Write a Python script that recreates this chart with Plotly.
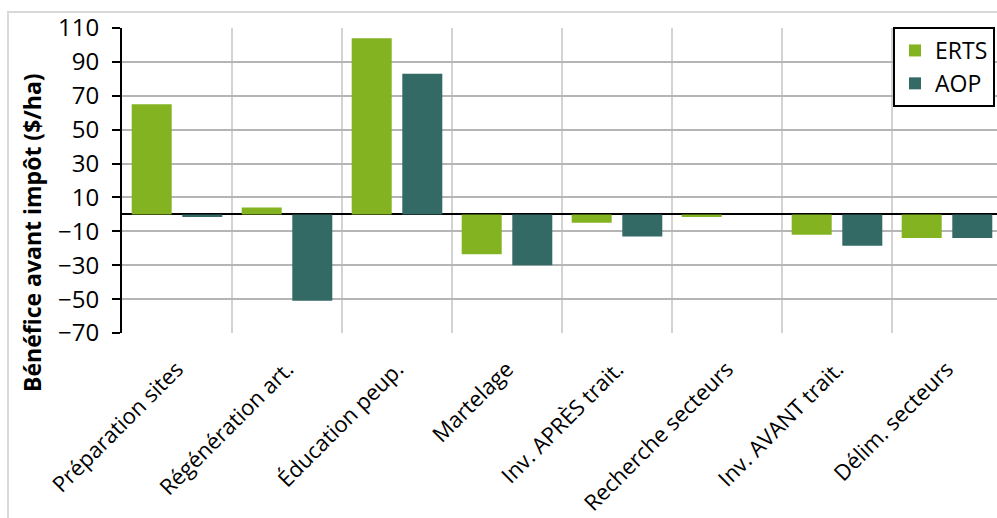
import plotly.graph_objects as go

categories = ["Préparation sites", "Régénération art.", "Éducation peup.", "Martelage",
              "Inv. APRÈS trait.", "Recherche secteurs", "Inv. AVANT trait.", "Délim. secteurs"]
erts = [65, 4, 104, -23.5, -5, -1.5, -12, -14]
aop = [-1.5, -51, 83, -30, -13, 0, -18.5, -14]
y_ticks = [-70, -50, -30, -10, 10, 30, 50, 70, 90, 110]
y_title = "Bénéfice avant impôt ($/ha)"

GREEN = "#83B320"
TEAL = "#336A66"
FONT = "Open Sans"

W, H = 997, 518
L, R, T, B = 122, 0, 28, 185
ymin, ymax = -70, 110
xr = [-0.5, 7.5 - 5 / 110]

fig = go.Figure()
fig.add_trace(go.Bar(name="ERTS", x=categories, y=erts, marker_color=GREEN,
                     marker_line_width=0, width=40 / 110, offset=-45.3 / 110))
fig.add_trace(go.Bar(name="AOP", x=categories, y=aop, marker_color=TEAL,
                     marker_line_width=0, width=40 / 110, offset=5.3 / 110))

zero_frac = (0 - ymin) / (ymax - ymin)
pw = W - L - R
ph = H - T - B

fig.update_layout(
    width=W, height=H,
    margin=dict(l=L, r=R, t=T, b=B, pad=0, autoexpand=False),
    paper_bgcolor="white", plot_bgcolor="white",
    barmode="overlay",
    font=dict(family=FONT, color="black"),
    xaxis=dict(type="category", categoryorder="array", categoryarray=categories,
               range=xr, tickson="boundaries", showgrid=True, gridcolor="#d3d3d3",
               gridwidth=1.5, ticks="", showline=False, zeroline=False,
               tickangle=-45, tickfont=dict(size=22, family=FONT),
               ticklabelstandoff=18, automargin=False),
    xaxis2=dict(overlaying="x", anchor="free", position=zero_frac, range=xr,
                tickmode="array", tickvals=[i + 0.5 for i in range(len(categories) - 1)],
                ticks="outside", ticklen=7, tickwidth=2, tickcolor="black",
                showticklabels=False, showgrid=False, showline=False, zeroline=False,
                automargin=False),
    yaxis=dict(range=[ymin, ymax], tickmode="array", tickvals=y_ticks,
               showgrid=True, gridcolor="#b5b5b5", gridwidth=1.5,
               zeroline=True, zerolinecolor="black", zerolinewidth=2,
               showline=True, linecolor="black", linewidth=2,
               ticks="outside", ticklen=8, tickwidth=2, tickcolor="black",
               tickfont=dict(size=24, family=FONT), ticklabelstandoff=8,
               automargin=False),
    legend=dict(x=(995 - L) / pw, xanchor="right", y=(H - B - 27) / ph, yanchor="top",
                bgcolor="white", bordercolor="black", borderwidth=2,
                font=dict(size=23, family=FONT), tracegroupgap=0),
    showlegend=True,
)

fig.add_annotation(text=y_title, textangle=-90, showarrow=False,
                   xref="paper", yref="paper", x=(32 - L) / pw, y=(H - B - 233) / ph,
                   xanchor="center", yanchor="middle",
                   font=dict(size=23, family=FONT, color="black", weight="bold"))

fig.add_shape(type="rect", xref="paper", yref="paper",
              x0=(8 - L) / pw, x1=1.2, y0=-1.0, y1=(H - B - 12) / ph,
              line=dict(color="#d9d9d9", width=2), fillcolor="rgba(0,0,0,0)", layer="below")

fig.write_html("out.html")
